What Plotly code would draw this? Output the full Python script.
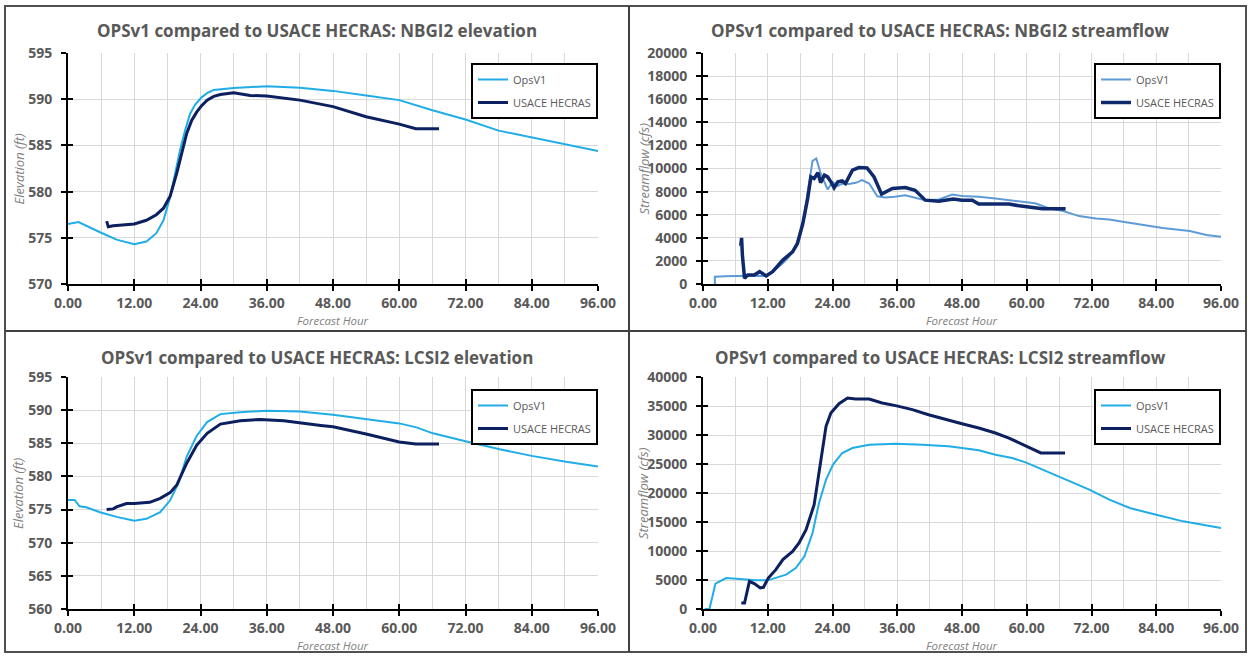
import plotly.graph_objects as go

W, H = 1248, 656

# ---------------- DATA ----------------
# Panel 1: NBGI2 elevation (ft)
nbgi2_elev_ops_hour = [0, 1.9, 5.8, 8.8, 12, 14.2, 16, 17.3, 18.5, 19.5, 20.3, 21.2, 22.1, 23.0, 24.2, 25.3,
                       26.4, 30, 36, 42, 48, 54, 60, 66, 72, 78, 84, 90, 96]
nbgi2_elev_ops = [576.5, 576.7, 575.6, 574.8, 574.3, 574.6, 575.5, 576.9, 579.4, 582.2, 584.5, 586.6, 588.4,
                  589.4, 590.2, 590.7, 591.0, 591.2, 591.4, 591.25, 590.9, 590.4, 589.9, 588.8, 587.8,
                  586.6, 585.85, 585.1, 584.4]
nbgi2_elev_hec_hour = [7.0, 7.3, 8.2, 10, 12, 14.2, 16, 17.3, 18.5, 19.7, 20.6, 21.5, 22.4, 23.3, 24.2, 25.2,
                       26.4, 27.6, 30, 33, 36, 42, 48, 54, 60, 63, 67.2]
nbgi2_elev_hec = [576.8, 576.2, 576.3, 576.4, 576.5, 576.9, 577.5, 578.2, 579.5, 582.0, 584.3, 586.3, 587.7,
                  588.6, 589.3, 589.9, 590.3, 590.5, 590.7, 590.4, 590.35, 589.9, 589.2, 588.1, 587.3,
                  586.8, 586.8]

# Panel 2: NBGI2 streamflow (cfs)
nbgi2_flow_ops_hour = [2.2, 2.2, 4, 6, 7.4, 8.5, 10, 11.7, 13, 14.8, 16, 17.2, 18.5, 19.7, 20.3, 21.0, 21.8,
                       23.1, 24, 25, 25.8, 27, 28.3, 29.5, 30.8, 32.3, 33.8, 35.5, 37.5, 39.5, 41.2, 43.7,
                       46.2, 48, 51.1, 54.2, 57.3, 60.4, 61.7, 64.2, 66.6, 69.7, 72.8, 75.3, 77.8, 81.5,
                       85.2, 90.2, 93.3, 96]
nbgi2_flow_ops = [0, 630, 680, 720, 760, 720, 700, 700, 1100, 1790, 2400, 3220, 5240, 8990, 10660, 10870,
                  9570, 8180, 8840, 8500, 8700, 8650, 8760, 8990, 8700, 7600, 7490, 7550, 7690, 7450, 7260,
                  7320, 7750, 7610, 7550, 7410, 7260, 7060, 6970, 6540, 6340, 5880, 5680, 5590, 5390, 5100,
                  4840, 4580, 4240, 4090]
nbgi2_flow_hec_hour = [7.0, 7.15, 7.3, 7.7, 8.3, 9.5, 10.5, 11.7, 12.9, 14.8, 16.6, 17.5, 18.5, 19.4, 20.0,
                       20.6, 21.3, 21.8, 22.5, 23.1, 23.7, 24.3, 25.0, 25.8, 26.4, 27.7, 28.9, 30.4, 31.7,
                       33.1, 35.1, 37.5, 39.3, 41.2, 43.7, 45.5, 46.4, 48, 49.9, 51.1, 54.2, 56.7, 58.6,
                       60.4, 62.9, 67.2]
nbgi2_flow_hec = [3300, 4000, 2500, 500, 780, 780, 1070, 700, 1070, 2070, 2790, 3510, 5240, 7400, 9270,
                  9130, 9630, 8780, 9420, 9270, 8850, 8330, 8850, 8920, 8700, 9850, 10080, 10050, 9270,
                  7780, 8270, 8350, 8120, 7260, 7170, 7260, 7350, 7260, 7260, 6920, 6890, 6920, 6770,
                  6690, 6510, 6510]

# Panel 3: LCSI2 elevation (ft)
lcsi2_elev_ops_hour = [0, 1.2, 2.1, 3.3, 5.8, 8.8, 12, 14.2, 16.7, 18.5, 20, 21.5, 23.3, 25.2, 27.6, 31.2,
                       36, 42, 48, 54, 60, 63.1, 66.1, 72, 78.2, 84, 90.2, 96]
lcsi2_elev_ops = [576.45, 576.45, 575.5, 575.35, 574.6, 573.9, 573.3, 573.6, 574.6, 576.4, 579.0, 583.0,
                  586.1, 588.2, 589.4, 589.7, 589.9, 589.8, 589.3, 588.7, 588.0, 587.4, 586.5, 585.3,
                  584.1, 583.1, 582.2, 581.5]
lcsi2_elev_hec_hour = [7.0, 8.2, 8.8, 10.6, 12, 14.8, 16.7, 18.5, 19.7, 21.5, 23.3, 25.2, 27.6, 31.2, 34.8,
                       39.1, 45.8, 48, 54, 60, 63, 67.2]
lcsi2_elev_hec = [575.0, 575.1, 575.4, 575.9, 575.9, 576.1, 576.7, 577.55, 578.7, 582.0, 584.7, 586.5,
                  587.9, 588.4, 588.6, 588.4, 587.7, 587.5, 586.4, 585.2, 584.9, 584.9]

# Panel 4: LCSI2 streamflow (cfs)
lcsi2_flow_ops_hour = [0.3, 1.2, 2.3, 4.3, 6.8, 9.8, 12, 13.5, 15.4, 17.2, 18.8, 20.3, 21.5, 22.8, 24.1, 25.8,
                       27.7, 30.8, 35.7, 40.6, 45.5, 48, 51.1, 54.2, 57.3, 59.8, 62.9, 66.6, 71.6, 75.3,
                       79.1, 84, 89, 96]
lcsi2_flow_ops = [0, 0, 4370, 5340, 5170, 4940, 4940, 5340, 5920, 7070, 9080, 13100, 18280, 22300, 24890,
                  26900, 27760, 28330, 28510, 28330, 28050, 27760, 27360, 26610, 26030, 25290, 24020, 22590,
                  20570, 18850, 17410, 16260, 15110, 13970]
lcsi2_flow_hec_hour = [7.1, 7.7, 8.6, 9.5, 10.6, 11.2, 12.1, 13.5, 14.8, 16.6, 17.8, 19.1, 20.6, 21.8, 22.8,
                       23.7, 25.2, 26.8, 28.3, 30.8, 33.2, 35.7, 38.8, 41.8, 45.5, 48, 51.1, 54.2, 56.7,
                       59.2, 62.6, 67.1]
lcsi2_flow_hec = [1030, 1030, 4770, 4370, 3620, 3740, 5340, 6780, 8510, 9940, 11380, 13680, 17990, 25170,
                  31490, 33790, 35400, 36380, 36210, 36210, 35520, 35060, 34370, 33500, 32530, 31950, 31210,
                  30340, 29480, 28330, 26900, 26900]

x_ticks_dtick = 12
titles = ["OPSv1 compared to USACE HECRAS: NBGI2 elevation",
          "OPSv1 compared to USACE HECRAS: NBGI2 streamflow",
          "OPSv1 compared to USACE HECRAS: LCSI2 elevation",
          "OPSv1 compared to USACE HECRAS: LCSI2 streamflow"]
y_titles = ["Elevation (ft)", "Streamflow (cfs)", "Elevation (ft)", "Streamflow (cfs)"]
x_title = "Forecast Hour"
series_names = ["OpsV1", "USACE HECRAS"]

# ---------------- STYLE / LAYOUT ----------------
CYAN = "#20ADE6"
STEEL = "#5E9BD6"
NAVY = "#0C1F5E"
NAVY2 = "#0F2A6C"
GRID = "#D9D9D9"
TXT = "#595959"
FONT = "Open Sans"

def fx(p):
    return p / W

def fy(p):
    return 1 - p / H

panels = [
    dict(x0=68, x1=598, y0=53, y1=284, yr=[570, 595], dt=5,
         data=[(nbgi2_elev_ops_hour, nbgi2_elev_ops, CYAN, 2), (nbgi2_elev_hec_hour, nbgi2_elev_hec, NAVY, 3)],
         leg=(471, 63), tx=317, ty=30, ylx=18),
    dict(x0=703, x1=1221, y0=53, y1=284, yr=[0, 20000], dt=2000,
         data=[(nbgi2_flow_ops_hour, nbgi2_flow_ops, STEEL, 2), (nbgi2_flow_hec_hour, nbgi2_flow_hec, NAVY2, 3.5)],
         leg=(1094, 63), tx=940, ty=30, ylx=643),
    dict(x0=68, x1=598, y0=377, y1=609, yr=[560, 595], dt=5,
         data=[(lcsi2_elev_ops_hour, lcsi2_elev_ops, CYAN, 2), (lcsi2_elev_hec_hour, lcsi2_elev_hec, NAVY, 3)],
         leg=(471, 389), tx=317, ty=357, ylx=18),
    dict(x0=703, x1=1221, y0=377, y1=609, yr=[0, 40000], dt=5000,
         data=[(lcsi2_flow_ops_hour, lcsi2_flow_ops, CYAN, 2), (lcsi2_flow_hec_hour, lcsi2_flow_hec, NAVY, 3)],
         leg=(1094, 389), tx=940, ty=357, ylx=643),
]

fig = go.Figure()
layout = {}
annotations = []
tickfont = dict(family=FONT, size=14, color=TXT, weight="bold")

for i, p in enumerate(panels):
    n = i + 1
    xs = "" if n == 1 else str(n)
    ax_x = "x" + xs
    ax_y = "y" + xs
    legname = "legend" + xs
    for j, (hx, vy, col, lw) in enumerate(p["data"]):
        fig.add_trace(go.Scatter(x=hx, y=vy, mode="lines", name=series_names[j],
                                 line=dict(color=col, width=lw), xaxis=ax_x, yaxis=ax_y,
                                 legend=legname, legendgroup=f"g{n}{j}", hoverinfo="skip"))
    xd = [fx(p["x0"]), fx(p["x1"])]
    yd = [fy(p["y1"]), fy(p["y0"])]
    layout["xaxis" + xs] = dict(domain=xd, anchor=ax_y, range=[0, 96], tick0=0, dtick=x_ticks_dtick,
                                tickformat=".2f", showline=True, linecolor="black", linewidth=2,
                                ticks="outside", ticklen=5, tickwidth=2, tickcolor="black",
                                showgrid=True, gridcolor=GRID, gridwidth=1, zeroline=False,
                                minor=dict(dtick=6, tick0=0, showgrid=True, gridcolor=GRID, gridwidth=1),
                                tickfont=tickfont, ticklabelstandoff=0, fixedrange=True, automargin=False)
    layout["yaxis" + xs] = dict(domain=yd, anchor=ax_x, range=p["yr"], tick0=p["yr"][0], dtick=p["dt"],
                                tickformat="d", showline=True, linecolor="black", linewidth=2,
                                ticks="outside", ticklen=5, tickwidth=2, tickcolor="black",
                                showgrid=True, gridcolor=GRID, gridwidth=1, zeroline=False,
                                tickfont=tickfont, ticklabelstandoff=6, fixedrange=True, automargin=False)
    # overlay axes to make the tick marks cross the axis line
    m = n + 4
    ox, oy = "x" + str(m), "y" + str(m)
    fig.add_trace(go.Scatter(x=[None], y=[None], xaxis=ox, yaxis=oy, showlegend=False, hoverinfo="skip"))
    layout["xaxis" + str(m)] = dict(domain=xd, anchor=oy, overlaying=ax_x, range=[0, 96], tick0=0,
                                    dtick=x_ticks_dtick, ticks="inside", ticklen=5, tickwidth=2,
                                    tickcolor="black", showticklabels=False, showgrid=False,
                                    showline=False, zeroline=False, fixedrange=True, automargin=False)
    layout["yaxis" + str(m)] = dict(domain=yd, anchor=ox, overlaying=ax_y, range=p["yr"], tick0=p["yr"][0],
                                    dtick=p["dt"], ticks="inside", ticklen=5, tickwidth=2,
                                    tickcolor="black", showticklabels=False, showgrid=False,
                                    showline=False, zeroline=False, fixedrange=True, automargin=False)
    layout[legname] = dict(x=fx(p["leg"][0]), y=fy(p["leg"][1]), xanchor="left", yanchor="top",
                           bordercolor="black", borderwidth=2, bgcolor="white",
                           font=dict(family=FONT, size=11, color=TXT), tracegroupgap=4)
    annotations.append(dict(text=titles[i], x=fx(p["tx"]), y=fy(p["ty"]), xref="paper", yref="paper",
                            showarrow=False, xanchor="center", yanchor="middle",
                            font=dict(family=FONT, size=17, color=TXT, weight="bold")))
    annotations.append(dict(text="<i>" + y_titles[i] + "</i>", x=fx(p["ylx"]), y=fy((p["y0"] + p["y1"]) / 2),
                            xref="paper", yref="paper", showarrow=False, textangle=-90,
                            xanchor="center", yanchor="middle",
                            font=dict(family=FONT, size=13, color="#7F7F7F")))
    annotations.append(dict(text="<i>" + x_title + "</i>", x=fx((p["x0"] + p["x1"]) / 2), y=fy(p["y1"] + 36.5),
                            xref="paper", yref="paper", showarrow=False, xanchor="center", yanchor="middle",
                            font=dict(family=FONT, size=11.5, color="#7F7F7F")))

shapes = [
    dict(type="rect", xref="paper", yref="paper", x0=fx(5), x1=fx(1246), y0=fy(652), y1=fy(6),
         line=dict(color="#505050", width=2)),
    dict(type="line", xref="paper", yref="paper", x0=fx(629), x1=fx(629), y0=fy(652), y1=fy(6),
         line=dict(color="#404040", width=2)),
    dict(type="line", xref="paper", yref="paper", x0=fx(5), x1=fx(1246), y0=fy(331), y1=fy(331),
         line=dict(color="#404040", width=2)),
]

fig.update_layout(width=W, height=H, margin=dict(l=0, r=0, t=0, b=0, autoexpand=False),
                  paper_bgcolor="white", plot_bgcolor="white", annotations=annotations, shapes=shapes,
                  font=dict(family=FONT, color=TXT), **layout)

fig.write_html("out.html")
